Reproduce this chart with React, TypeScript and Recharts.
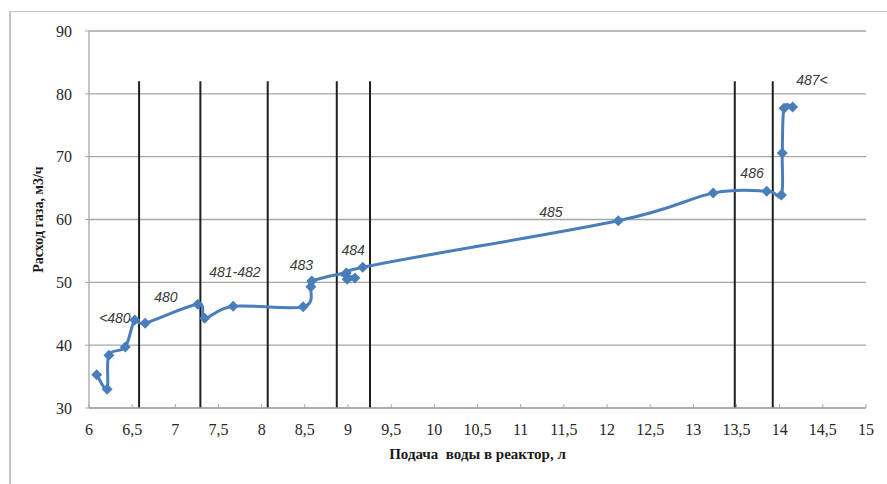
import React from 'react';
import { LineChart, Line, XAxis, YAxis, CartesianGrid, ReferenceLine, ReferenceDot } from 'recharts';

// water feed into the reactor, l
const waterFeed = [6.09, 6.21, 6.23, 6.42, 6.53, 6.65, 7.26, 7.34, 7.67, 8.48, 8.57, 8.58, 8.98, 8.99, 9.08, 9.17, 12.13, 13.23, 13.85, 14.02, 14.03, 14.05, 14.15];
// gas flow, m3/h
const gasFlow = [35.3, 33.0, 38.4, 39.7, 44.0, 43.5, 46.5, 44.3, 46.2, 46.1, 49.3, 50.2, 51.5, 50.5, 50.7, 52.4, 59.8, 64.2, 64.5, 63.9, 70.6, 77.7, 77.9];

const xTicks = [6, 6.5, 7, 7.5, 8, 8.5, 9, 9.5, 10, 10.5, 11, 11.5, 12, 12.5, 13, 13.5, 14, 14.5, 15];
const yTicks = [30, 40, 50, 60, 70, 80, 90];

// zone borders (vertical lines)
const zoneBorders = [6.58, 7.29, 8.07, 8.87, 9.255, 13.48, 13.92];
const zoneTop = 82;

const zoneNames = ['<480', '480', '481-482', '483', '484', '485', '486', '487<'];
const zoneNameX = [6.3, 6.89, 7.69, 8.46, 9.06, 11.35, 13.68, 14.375];
const zoneNameY = [44.3, 47.7, 51.6, 52.8, 55.1, 61.2, 67.4, 82.2];

const data = waterFeed.map((x, i) => ({ x, y: gasFlow[i] }));

const BLUE = '#4a7ebb';
const GRID = '#a6a6a6';
const serif = '"Liberation Serif", "Times New Roman", serif';

// Excel-like smoothed line (uniform Catmull-Rom through the points)
const excelSmooth = (context: any) => {
  let pts: number[][] = [];
  return {
    areaStart() {},
    areaEnd() {},
    lineStart() {
      pts = [];
    },
    point(x: number, y: number) {
      pts.push([+x, +y]);
    },
    lineEnd() {
      const n = pts.length;
      if (!n) return;
      context.moveTo(pts[0][0], pts[0][1]);
      for (let i = 0; i < n - 1; i++) {
        const p0 = pts[i - 1] || pts[i];
        const p1 = pts[i];
        const p2 = pts[i + 1];
        const p3 = pts[i + 2] || p2;
        context.bezierCurveTo(
          p1[0] + (p2[0] - p0[0]) / 6,
          p1[1] + (p2[1] - p0[1]) / 6,
          p2[0] - (p3[0] - p1[0]) / 6,
          p2[1] - (p3[1] - p1[1]) / 6,
          p2[0],
          p2[1]
        );
      }
    },
  };
};

const Diamond = (props: any) => {
  const { cx, cy } = props;
  if (cx == null || cy == null) return null;
  const s = 5.5;
  return (
    <polygon
      points={`${cx},${cy - s} ${cx + s},${cy} ${cx},${cy + s} ${cx - s},${cy}`}
      fill={BLUE}
    />
  );
};

const App = () => {
  return (
    <div style={{ position: 'absolute', left: 0, top: 0, width: 887, height: 484, background: '#fff', overflow: 'hidden' }}>
      <div
        style={{
          position: 'absolute',
          left: 9,
          top: 11,
          right: -2,
          bottom: -2,
          borderLeft: '2px solid #c4c4c4',
          borderTop: '1px solid #c4c4c4',
        }}
      />
      <LineChart
        width={887}
        height={484}
        data={data}
        margin={{ top: 31, right: 21, bottom: 0, left: 0 }}
        style={{ position: 'absolute', left: 0, top: 0 }}
      >
        <CartesianGrid vertical={false} stroke={GRID} strokeWidth={1.3} />
        <XAxis
          dataKey="x"
          type="number"
          domain={[6, 15]}
          ticks={xTicks}
          interval={0}
          height={76}
          tickSize={-4}
          tickMargin={20}
          axisLine={{ stroke: GRID, strokeWidth: 1.3 }}
          tickLine={{ stroke: GRID }}
          tick={{ fill: '#262626', fontSize: 16, fontFamily: serif }}
          tickFormatter={(v: number) => String(v).replace('.', ',')}
          label={{
            value: 'Подача\u00A0 воды в реактор, л',
            position: 'insideBottom',
            offset: 25,
            fill: '#1a1a1a',
            fontSize: 15,
            fontWeight: 'bold',
            fontFamily: serif,
          }}
        />
        <YAxis
          type="number"
          domain={[30, 90]}
          ticks={yTicks}
          interval={0}
          width={89}
          tickSize={4}
          tickMargin={13}
          axisLine={{ stroke: GRID, strokeWidth: 1.3 }}
          tickLine={{ stroke: GRID }}
          tick={{ fill: '#262626', fontSize: 16, fontFamily: serif }}
          label={{
            value: 'Расход газа, м3/ч',
            angle: -90,
            position: 'insideLeft',
            offset: 38,
            fill: '#1a1a1a',
            fontSize: 14,
            fontWeight: 'bold',
            fontFamily: serif,
            style: { textAnchor: 'middle' },
          }}
        />
        {zoneBorders.map((v) => (
          <ReferenceLine
            key={v}
            segment={[{ x: v, y: 30 }, { x: v, y: zoneTop }]}
            stroke="#1f1f1f"
            strokeWidth={2}
          />
        ))}
        <Line
          type={excelSmooth as any}
          dataKey="y"
          stroke={BLUE}
          strokeWidth={3}
          dot={<Diamond />}
          activeDot={false}
          isAnimationActive={false}
        />
        {zoneNames.map((name, i) => (
          <ReferenceDot
            key={name}
            x={zoneNameX[i]}
            y={zoneNameY[i]}
            r={0}
            fill="none"
            stroke="none"
            ifOverflow="visible"
            label={{
              value: name,
              position: 'center',
              fill: '#3a3a3a',
              fontSize: 14,
              fontStyle: 'italic',
              fontFamily: '"Liberation Sans", Arial, sans-serif',
            }}
          />
        ))}
      </LineChart>
    </div>
  );
};

export default App;
